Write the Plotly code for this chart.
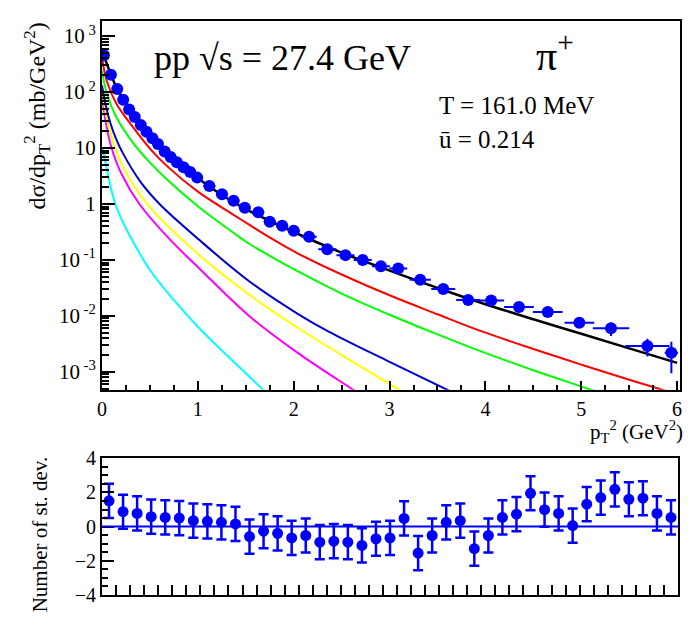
import plotly.graph_objects as go

# ---------------- data: measured spectrum (top panel) ----------------
pt2 = [0.02, 0.093, 0.159, 0.221, 0.283, 0.342, 0.405, 0.464, 0.526, 0.584,
       0.654, 0.716, 0.781, 0.851, 0.92, 0.993, 1.12, 1.252, 1.373, 1.49,
       1.63, 1.75, 1.88, 2.00, 2.16, 2.35, 2.54, 2.72, 2.91, 3.09,
       3.32, 3.56, 3.82, 4.06, 4.35, 4.65, 4.98, 5.31, 5.69, 5.94]
xsec = [455, 204, 114, 73, 48.7, 36, 25.8, 19.6, 15.0, 11.8,
        8.7, 6.9, 5.57, 4.55, 3.72, 2.96, 2.10, 1.50, 1.14, 0.86,
        0.71, 0.48, 0.41, 0.334, 0.259, 0.156, 0.122, 0.100, 0.0774, 0.0705,
        0.0444, 0.0304, 0.0192, 0.0189, 0.0145, 0.0118, 0.00755, 0.0060, 0.00289, 0.0022]
xsec_err = [14, 6, 3.4, 2.2, 1.5, 1.1, 0.8, 0.6, 0.45, 0.36,
            0.27, 0.21, 0.17, 0.14, 0.12, 0.09, 0.07, 0.05, 0.04, 0.03,
            0.026, 0.018, 0.016, 0.013, 0.011, 0.007, 0.006, 0.005, 0.0042, 0.004,
            0.003, 0.0022, 0.0016, 0.0017, 0.0014, 0.0013, 0.0013, 0.0016, 0.001, 0.00125]
pt2_halfwidth = [0.031] * 16 + [0.0625] * 8 + [0.08, 0.094, 0.094, 0.094, 0.094, 0.094,
                 0.11, 0.125, 0.125, 0.135, 0.155, 0.155, 0.155, 0.19, 0.23, 0.07]

# ---------------- fit curves ----------------
black_x = [0, 0.1, 0.16, 0.25, 0.34, 0.5, 0.75, 1.0, 1.25, 1.5, 2.0, 2.5, 3.0, 3.5, 4.0, 4.5, 5.0, 5.5, 6.0]
black_y = [562, 191, 112, 63.1, 37.2, 17.0, 6.17, 2.88, 1.45, 0.813, 0.316, 0.135, 0.0646,
           0.0316, 0.0162, 0.00871, 0.00479, 0.00263, 0.00145]

red_x = [0, 0.05, 0.15, 0.33, 0.5, 0.67, 1.0, 1.36, 1.535, 1.77, 2.05, 2.5, 3.0, 3.5, 3.92, 4.5, 5.0, 5.5, 6.0]
red_y = [417, 158, 61.7, 22.9, 9.77, 4.90, 1.66, 0.661, 0.427, 0.240, 0.129, 0.055, 0.0234,
         0.0107, 0.00562, 0.00257, 0.00135, 7.24e-4, 3.98e-4]

green_x = [0, 0.05, 0.15, 0.33, 0.5, 0.67, 1.0, 1.36, 1.535, 2.05, 2.5, 3.0, 3.5, 3.92, 4.5, 5.07, 5.5]
green_y = [240, 95.5, 35.5, 12.0, 5.50, 2.82, 0.912, 0.316, 0.195, 0.0617, 0.0251, 0.0105,
           0.00468, 0.00245, 0.00107, 5.0e-4, 2.8e-4]

blue_x = [0, 0.04, 0.083, 0.15, 0.22, 0.4, 0.6, 1.02, 1.535, 2.05, 2.365, 3.0, 3.6, 3.8]
blue_y = [132, 57.5, 29.5, 14.1, 7.94, 2.51, 1.0, 0.224, 0.0417, 0.0107, 0.00525, 0.00151, 4.8e-4, 3.3e-4]

yellow_x = [0, 0.04, 0.08, 0.2, 0.35, 0.5, 1.02, 1.535, 2.05, 2.5, 3.1, 3.3]
yellow_y = [107, 41.7, 20.9, 5.50, 1.91, 0.871, 0.120, 0.024, 0.00603, 0.002, 4.8e-4, 3.0e-4]

magenta_x = [0, 0.04, 0.1, 0.2, 0.39, 0.7, 1.02, 1.535, 2.05, 2.62, 2.8]
magenta_y = [87.1, 28.2, 10.0, 3.55, 1.0, 0.24, 0.0692, 0.01, 0.00214, 4.8e-4, 3.0e-4]

cyan_x = [0.005, 0.03, 0.08, 0.135, 0.19, 0.3, 0.5, 0.75, 1.02, 1.3, 1.535, 1.68, 1.8]
cyan_y = [10.0, 6.31, 2.40, 1.05, 0.603, 0.251, 0.0661, 0.0191, 0.00589, 0.002, 8.3e-4, 4.8e-4, 3.0e-4]

# ---------------- residuals (bottom panel) ----------------
dev_bin = list(range(1, 42))
dev_val = [1.51, 0.87, 0.77, 0.58, 0.54, 0.50, 0.35, 0.31, 0.25, 0.16,
           -0.58, -0.27, -0.39, -0.66, -0.52, -0.91, -0.85, -0.91, -1.10, -0.71,
           -0.66, 0.48, -1.55, -0.52, 0.25, 0.35, -1.29, -0.52, 0.54, 0.73,
           1.95, 0.99, 0.77, 0.06, 1.31, 1.70, 2.18, 1.60, 1.66, 0.77, 0.54]
dev_err = [1.0] * 41

y_tickvals = [1e-3, 1e-2, 1e-1, 1, 10, 1e2, 1e3]
y_ticktext = ["10<sup> -3</sup>", "10<sup> -2</sup>", "10<sup> -1</sup>", "1", "10",
              "10<sup> 2</sup>", "10<sup> 3</sup>"]
x_tickvals = [0, 1, 2, 3, 4, 5, 6]

FONT = "Liberation Serif"
PTBLUE = "#0000ff"

fig = go.Figure()

curves = [
    (cyan_x, cyan_y, "#00ffff"),
    (magenta_x, magenta_y, "#ff00ff"),
    (yellow_x, yellow_y, "#ffff00"),
    (blue_x, blue_y, "#0000d0"),
    (green_x, green_y, "#00ff00"),
    (red_x, red_y, "#ff0000"),
]
for cx, cy, col in curves:
    fig.add_trace(go.Scatter(x=cx, y=cy, mode="lines", line=dict(color=col, width=2, shape="spline"),
                             xaxis="x", yaxis="y", hoverinfo="skip"))
fig.add_trace(go.Scatter(x=black_x, y=black_y, mode="lines",
                         line=dict(color="black", width=2.5, shape="spline"),
                         xaxis="x", yaxis="y"))
fig.add_trace(go.Scatter(
    x=pt2, y=xsec, mode="markers",
    marker=dict(color=PTBLUE, size=12),
    error_x=dict(type="data", array=pt2_halfwidth, color=PTBLUE, thickness=2, width=0),
    error_y=dict(type="data", array=xsec_err, color=PTBLUE, thickness=2, width=0),
    xaxis="x", yaxis="y", cliponaxis=True))

fig.add_trace(go.Scatter(
    x=dev_bin, y=dev_val, mode="markers",
    marker=dict(color=PTBLUE, size=11),
    error_y=dict(type="data", array=dev_err, color=PTBLUE, thickness=2.5, width=5),
    xaxis="x2", yaxis="y2"))

minor_log = [m * 10.0 ** e for e in range(-4, 4) for m in range(2, 10)]

axis_common = dict(showline=True, linecolor="black", linewidth=2, mirror=True,
                   showgrid=False, zeroline=False, ticks="inside", tickcolor="black",
                   tickwidth=1.5)

fig.update_layout(
    width=692, height=619,
    margin=dict(l=102, r=10, t=16, b=24),
    paper_bgcolor="white", plot_bgcolor="white",
    showlegend=False,
    font=dict(family=FONT, color="black"),
    xaxis=dict(domain=[0, 1], range=[0, 6.03], anchor="y", tickvals=x_tickvals,
               ticklen=9, tickfont=dict(size=20, family=FONT),
               minor=dict(dtick=0.25, tick0=0, ticks="inside", ticklen=5, tickcolor="black", showgrid=False),
               **axis_common),
    yaxis=dict(domain=[0.3575, 1], type="log", range=[-3.32, 3.27], anchor="x",
               tickvals=y_tickvals, ticktext=y_ticktext, ticklen=13,
               tickfont=dict(size=21, family=FONT),
               minor=dict(tickvals=minor_log, ticks="inside", ticklen=7, tickcolor="black", showgrid=False),
               **axis_common),
    xaxis2=dict(domain=[0, 0.9966], range=[0.5, 41.5], anchor="y2", tick0=0.5, dtick=1,
                ticklen=10, showticklabels=False, **axis_common),
    yaxis2=dict(domain=[0, 0.2383], range=[-4, 4], anchor="x2", tickvals=[-4, -2, 0, 2, 4],
                ticklen=12, tickfont=dict(size=20, family=FONT),
                minor=dict(dtick=0.5, tick0=0, ticks="inside", ticklen=6, tickcolor="black", showgrid=False),
                **axis_common),
    shapes=[dict(type="line", xref="x2 domain", yref="y2", x0=0, x1=1, y0=0, y1=0,
                 line=dict(color=PTBLUE, width=2))],
    annotations=[
        dict(text="pp \u221As = 27.4 GeV", xref="paper", yref="paper", x=0.0862, y=0.936,
             xanchor="left", yanchor="middle", showarrow=False, font=dict(size=36, family=FONT)),
        dict(text="\u03c0<sup>+</sup>", xref="paper", yref="paper", x=0.7466, y=0.945,
             xanchor="left", yanchor="middle", showarrow=False, font=dict(size=42, family=FONT)),
        dict(text="T = 161.0 MeV", xref="paper", yref="paper", x=0.579, y=0.853,
             xanchor="left", yanchor="middle", showarrow=False, font=dict(size=25, family=FONT)),
        dict(text="\u016b = 0.214", xref="paper", yref="paper", x=0.579, y=0.7927,
             xanchor="left", yanchor="middle", showarrow=False, font=dict(size=25, family=FONT)),
        dict(text="p<sub>T</sub><sup>2</sup> (GeV<sup>2</sup>)", xref="paper", yref="paper",
             x=1.0086, y=0.285, xanchor="right", yanchor="middle", showarrow=False,
             font=dict(size=21, family=FONT)),
        dict(text="d\u03c3/dp<sub>T</sub><sup>2</sup> (mb/GeV<sup>2</sup>)", xref="paper", yref="paper",
             x=-0.112, y=0.834, xanchor="center", yanchor="middle", textangle=-90, showarrow=False,
             font=dict(size=24, family=FONT)),
        dict(text="Number of st. dev.", xref="paper", yref="paper",
             x=-0.107, y=0.106, xanchor="center", yanchor="middle", textangle=-90, showarrow=False,
             font=dict(size=21, family=FONT)),
    ],
)

fig.write_html("out.html", config={"displayModeBar": False},
               post_script="document.body.style.margin='0';")
